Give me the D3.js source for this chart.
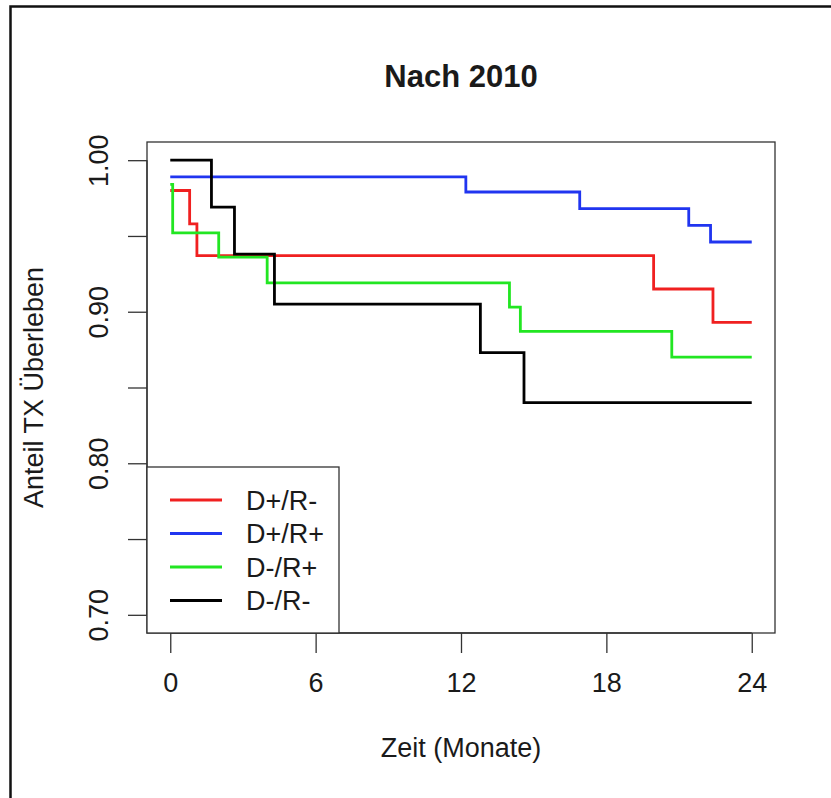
<!DOCTYPE html>
<html>
<head>
<meta charset="utf-8">
<script src="https://cdn.jsdelivr.net/npm/d3@7"></script>
<style>
  body { margin: 0; background: #fff; }
  text { font-family: "Liberation Sans", Arial, sans-serif; fill: #1a1a1a; }
</style>
</head>
<body>
<div id="chart"></div>
<script>
// tick values
var monthTicks = [0, 6, 12, 18, 24];
var survTicks = [0.70, 0.75, 0.80, 0.85, 0.90, 0.95, 1.00];
var survLabels = [0.70, 0.80, 0.90, 1.00];

// Kaplan-Meier steps (time in months, survival)
var groups = ["D+/R-", "D+/R+", "D-/R+", "D-/R-"];
var groupColors = ["#f02020", "#2035f0", "#22e622", "#000000"];

var timesRed = [0, 0.8, 1.1, 19.95, 22.4];
var survRed = [0.980, 0.958, 0.937, 0.915, 0.893];

var timesBlue = [0, 12.2, 16.9, 21.4, 22.3];
var survBlue = [0.989, 0.979, 0.968, 0.957, 0.946];

var timesGreen = [0, 0.1, 2.0, 4.0, 14.0, 14.45, 20.7];
var survGreen = [0.984, 0.952, 0.936, 0.919, 0.903, 0.887, 0.870];

var timesBlack = [0, 1.7, 2.65, 4.3, 12.8, 14.6];
var survBlack = [1.000, 0.969, 0.938, 0.905, 0.873, 0.840];

var endTime = 24;

function draw() {
    var width = 831;
    var height = 798;
    var box = {left: 147, right: 775, top: 142, bottom: 633};

    var svg = d3.select("#chart").append("svg")
        .attr("width", width)
        .attr("height", height);

    // outer frame of the original image (only top and left edges visible)
    svg.append("path")
        .attr("d", "M10.5,800 L10.5,6.5 L831,6.5")
        .attr("fill", "none")
        .attr("stroke", "#111")
        .attr("stroke-width", 2.5);

    // R style: limits padded by 4%
    var x = d3.scaleLinear()
        .domain([-0.96, 24.96])
        .range([box.left, box.right]);
    var y = d3.scaleLinear()
        .domain([0.688, 1.012])
        .range([box.bottom, box.top]);

    // x axis
    var xAxis = d3.axisBottom(x)
        .tickValues(monthTicks)
        .tickSize(20)
        .tickPadding(20)
        .tickFormat(d3.format("d"));
    var gx = svg.append("g")
        .attr("transform", "translate(0," + box.bottom + ")")
        .call(xAxis);
    gx.select(".domain")
        .attr("d", "M" + x(0) + ",0H" + x(24))
        .attr("stroke", "#333").attr("stroke-width", 1.3);
    gx.selectAll(".tick line").attr("stroke", "#333").attr("stroke-width", 1.3);
    gx.selectAll(".tick text")
        .style("font-size", "27px")
        .style("font-family", "'Liberation Sans', Arial, sans-serif")
        .attr("fill", "#1a1a1a");

    // y axis
    var yAxis = d3.axisLeft(y)
        .tickValues(survTicks)
        .tickSize(19)
        .tickFormat(function (d) {
            return survLabels.some(function (v) { return Math.abs(v - d) < 1e-9; }) ? d3.format(".2f")(d) : "";
        });
    var gy = svg.append("g")
        .attr("transform", "translate(" + box.left + ",0)")
        .call(yAxis);
    gy.select(".domain")
        .attr("d", "M0," + y(0.70) + "V" + y(1.00))
        .attr("stroke", "#333").attr("stroke-width", 1.3);
    gy.selectAll(".tick line").attr("stroke", "#333").attr("stroke-width", 1.3);
    gy.selectAll(".tick text")
        .style("font-size", "27px")
        .style("font-family", "'Liberation Sans', Arial, sans-serif")
        .attr("fill", "#1a1a1a")
        .attr("text-anchor", "middle")
        .attr("x", null)
        .attr("dy", null)
        .attr("transform", "translate(-39,0) rotate(-90)");

    // plot box
    svg.append("rect")
        .attr("x", box.left)
        .attr("y", box.top)
        .attr("width", box.right - box.left)
        .attr("height", box.bottom - box.top)
        .attr("fill", "none")
        .attr("stroke", "#333")
        .attr("stroke-width", 1.3);

    // curves
    var series = [
        {t: timesRed, s: survRed},
        {t: timesBlue, s: survBlue},
        {t: timesGreen, s: survGreen},
        {t: timesBlack, s: survBlack}
    ];

    var line = d3.line()
        .x(function (d) { return x(d[0]); })
        .y(function (d) { return y(d[1]); })
        .curve(d3.curveStepAfter);

    series.forEach(function (ser, i) {
        var pts = ser.t.map(function (t, j) { return [t, ser.s[j]]; });
        pts.push([endTime, ser.s[ser.s.length - 1]]);
        svg.append("path")
            .datum(pts)
            .attr("d", line)
            .attr("fill", "none")
            .attr("stroke", groupColors[i])
            .attr("stroke-width", 2.8);
    });

    // legend
    var legend = svg.append("g");
    legend.append("rect")
        .attr("x", box.left)
        .attr("y", 467)
        .attr("width", 339 - box.left)
        .attr("height", box.bottom - 467)
        .attr("fill", "#fff")
        .attr("stroke", "#333")
        .attr("stroke-width", 1.3);

    groups.forEach(function (g, i) {
        var ly = 500 + i * 33.5;
        legend.append("line")
            .attr("x1", 170).attr("x2", 222)
            .attr("y1", ly).attr("y2", ly)
            .attr("stroke", groupColors[i])
            .attr("stroke-width", 2.8);
        legend.append("text")
            .attr("x", 246)
            .attr("y", ly + 9.5)
            .style("font-size", "27px")
            .text(g);
    });

    // titles
    svg.append("text")
        .attr("x", (box.left + box.right) / 2)
        .attr("y", 87)
        .attr("text-anchor", "middle")
        .style("font-size", "31px")
        .style("font-weight", "bold")
        .text("Nach 2010");

    svg.append("text")
        .attr("x", (box.left + box.right) / 2)
        .attr("y", 757)
        .attr("text-anchor", "middle")
        .style("font-size", "27px")
        .text("Zeit (Monate)");

    svg.append("text")
        .attr("transform", "translate(43," + ((box.top + box.bottom) / 2) + ") rotate(-90)")
        .attr("text-anchor", "middle")
        .style("font-size", "27px")
        .text("Anteil TX Überleben");
}

draw();
</script>
</body>
</html>
